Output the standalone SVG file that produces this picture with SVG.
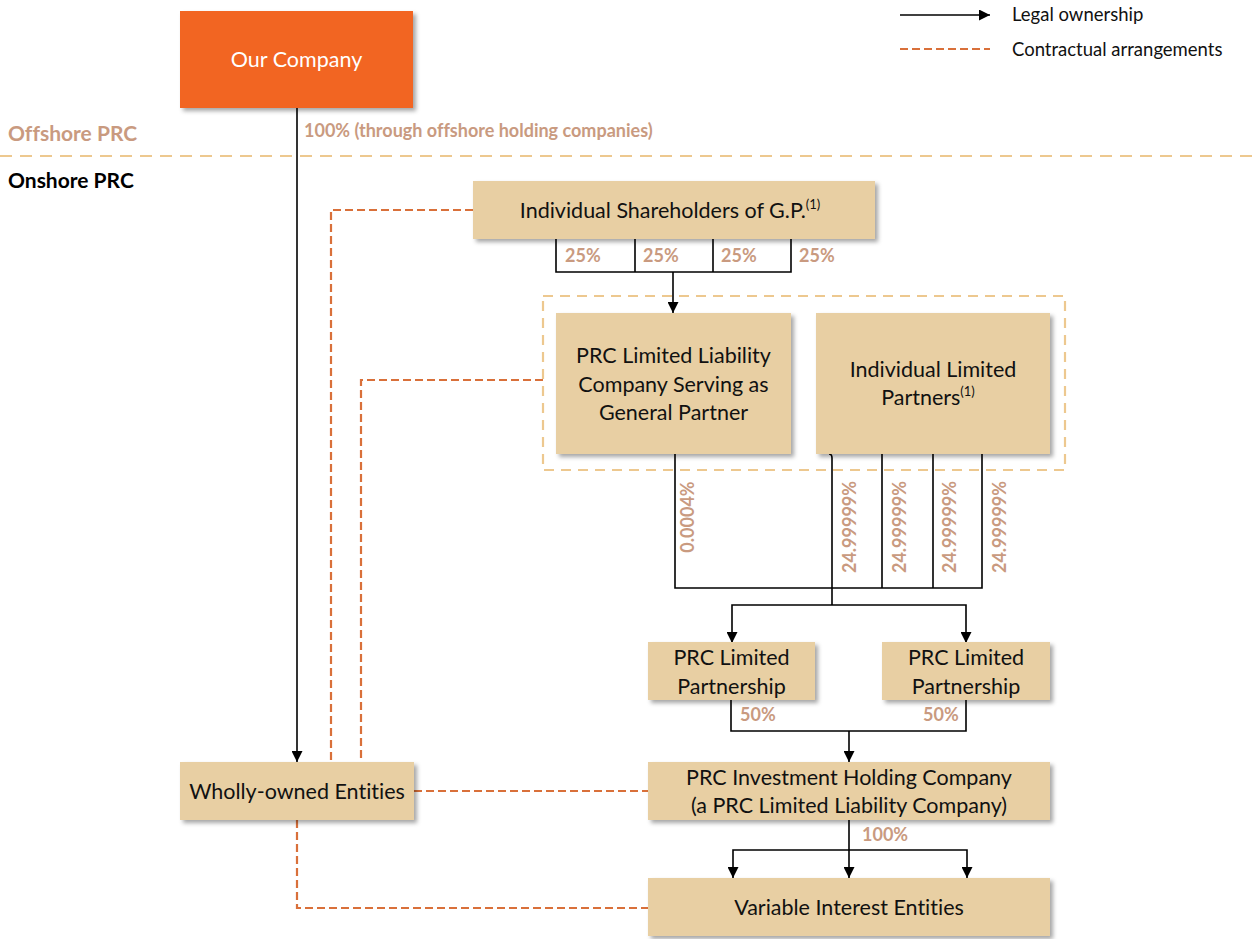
<svg xmlns="http://www.w3.org/2000/svg" width="1252" height="939" viewBox="0 0 1252 939">
  <defs>
    <filter id="shadow" x="-10%" y="-10%" width="125%" height="130%">
      <feDropShadow dx="3" dy="3" stdDeviation="2" flood-color="#000" flood-opacity="0.35"/>
    </filter>
    <marker id="arrow" viewBox="0 0 11 11" refX="11" refY="5.5" markerWidth="11" markerHeight="11" markerUnits="userSpaceOnUse" orient="auto">
      <path d="M0,0 L11,5.5 L0,11 Z" fill="#000"/>
    </marker>
    <style>
      text { font-variant-ligatures: none; }
      .box { fill: #E8CFA3; filter: url(#shadow); }
      .lbl { font-family: Lato, "Open Sans", sans-serif; font-size: 21.5px; fill: #111; text-anchor: middle; }
      .pct { font-family: Lato, "Open Sans", sans-serif; font-size: 18px; font-weight: bold; fill: #C99A80; }
      .own { fill: none; stroke: #000; stroke-width: 1.6; }
      .own-arrow { fill: none; stroke: #000; stroke-width: 1.6; marker-end: url(#arrow); }
      .contract { fill: none; stroke: #D9703A; stroke-width: 2.2; stroke-dasharray: 8 4; }
      .legend { font-family: Lato, "Open Sans", sans-serif; font-size: 18.5px; fill: #111; }
      .sup { font-size: 13px; }
    </style>
  </defs>

  <rect width="1252" height="939" fill="#fff"/>

  <!-- legend -->
  <g id="legend">
    <line x1="900" y1="15" x2="990" y2="15" class="own-arrow"/>
    <text x="1012" y="21" class="legend">Legal ownership</text>
    <line x1="900" y1="49" x2="990" y2="49" class="contract"/>
    <text x="1012" y="56" class="legend">Contractual arrangements</text>
  </g>

  <!-- offshore / onshore divider -->
  <g id="regions">
    <line x1="0" y1="156" x2="1252" y2="156" stroke="#EDC88F" stroke-width="2.2" stroke-dasharray="12 8"/>
    <text x="8" y="141" font-family="Lato, 'Open Sans', sans-serif" font-size="21" font-weight="bold" fill="#C99A80">Offshore PRC</text>
    <text x="8" y="188" font-family="Lato, 'Open Sans', sans-serif" font-size="21" font-weight="bold" fill="#000">Onshore PRC</text>
  </g>

  <!-- general partner / limited partners grouping -->
  <g id="partners-group">
    <rect x="543" y="296" width="522" height="174" fill="none" stroke="#EDC88F" stroke-width="2.2" stroke-dasharray="10 7"/>
  </g>

  <!-- connectors -->
  <g id="connectors">
    <!-- legal ownership -->
    <line x1="297" y1="108" x2="297" y2="762" class="own-arrow"/>
    <path d="M556,239 V272 H791 V239 M635,239 V272 M713,239 V272" class="own"/>
    <line x1="673" y1="272" x2="673" y2="313" class="own-arrow"/>
    <path d="M675,454 V588 H982 V454 M882,454 V588 M933,454 V588" class="own"/>
    <path d="M829,454 Q832,454 832,458 V605" class="own"/>
    <path d="M832,605 H732 V643" class="own-arrow"/>
    <path d="M832,605 H966 V643" class="own-arrow"/>
    <path d="M731,700 V731 H966 V700" class="own"/>
    <line x1="849" y1="731" x2="849" y2="762" class="own-arrow"/>
    <line x1="849" y1="820" x2="849" y2="878" class="own-arrow"/>
    <path d="M849,850 H733 V878" class="own-arrow"/>
    <path d="M849,850 H967 V878" class="own-arrow"/>

    <!-- contractual arrangements -->
    <path d="M473,210 H331 V762" class="contract"/>
    <path d="M543,380 H361 V762" class="contract"/>
    <line x1="414" y1="791" x2="648" y2="791" class="contract"/>
    <path d="M297,820 V908 H648" class="contract"/>

    <!-- ownership percentages -->
    <text x="304" y="137" class="pct">100% (through offshore holding companies)</text>
    <text x="565" y="262" class="pct">25%</text>
    <text x="643" y="262" class="pct">25%</text>
    <text x="721" y="262" class="pct">25%</text>
    <text x="799" y="262" class="pct">25%</text>
    <text x="694" y="517" class="pct" text-anchor="middle" transform="rotate(-90 694 517)">0.0004%</text>
    <text x="856" y="527" class="pct" text-anchor="middle" transform="rotate(-90 856 527)">24.99999%</text>
    <text x="906" y="527" class="pct" text-anchor="middle" transform="rotate(-90 906 527)">24.99999%</text>
    <text x="956" y="527" class="pct" text-anchor="middle" transform="rotate(-90 956 527)">24.99999%</text>
    <text x="1006" y="527" class="pct" text-anchor="middle" transform="rotate(-90 1006 527)">24.99999%</text>
    <text x="740" y="721" class="pct">50%</text>
    <text x="923" y="721" class="pct">50%</text>
    <text x="862" y="841" class="pct">100%</text>
  </g>

  <!-- nodes -->
  <g id="our-company">
    <rect x="180" y="11" width="233" height="97" fill="#F26522" filter="url(#shadow)"/>
    <text x="296.5" y="67" class="lbl" style="fill:#fff">Our Company</text>
  </g>

  <g id="individual-shareholders">
    <rect x="473" y="181" width="402" height="58" class="box"/>
    <text x="670" y="218" class="lbl">Individual Shareholders of G.P.<tspan class="sup" dy="-9">(1)</tspan></text>
  </g>

  <g id="general-partner">
    <rect x="556" y="313" width="235" height="141" class="box"/>
    <text x="673.5" y="363" class="lbl">PRC Limited Liability</text>
    <text x="673.5" y="392" class="lbl">Company Serving as</text>
    <text x="673.5" y="420" class="lbl">General Partner</text>
  </g>

  <g id="limited-partners">
    <rect x="816" y="313" width="234" height="141" class="box"/>
    <text x="933" y="377" class="lbl">Individual Limited</text>
    <text x="928" y="405" class="lbl">Partners<tspan class="sup" dy="-9">(1)</tspan></text>
  </g>

  <g id="partnership-left">
    <rect x="648" y="642" width="167" height="58" class="box"/>
    <text x="731.5" y="665" class="lbl">PRC Limited</text>
    <text x="731.5" y="694" class="lbl">Partnership</text>
  </g>

  <g id="partnership-right">
    <rect x="882" y="642" width="168" height="58" class="box"/>
    <text x="966" y="665" class="lbl">PRC Limited</text>
    <text x="966" y="694" class="lbl">Partnership</text>
  </g>

  <g id="investment-holding">
    <rect x="648" y="762" width="402" height="58" class="box"/>
    <text x="849" y="785" class="lbl">PRC Investment Holding Company</text>
    <text x="849" y="813" class="lbl">(a PRC Limited Liability Company)</text>
  </g>

  <g id="wholly-owned">
    <rect x="180" y="762" width="234" height="58" class="box"/>
    <text x="297" y="799" class="lbl">Wholly-owned Entities</text>
  </g>

  <g id="vie">
    <rect x="648" y="878" width="402" height="58" class="box"/>
    <text x="849" y="915" class="lbl">Variable Interest Entities</text>
  </g>
</svg>
